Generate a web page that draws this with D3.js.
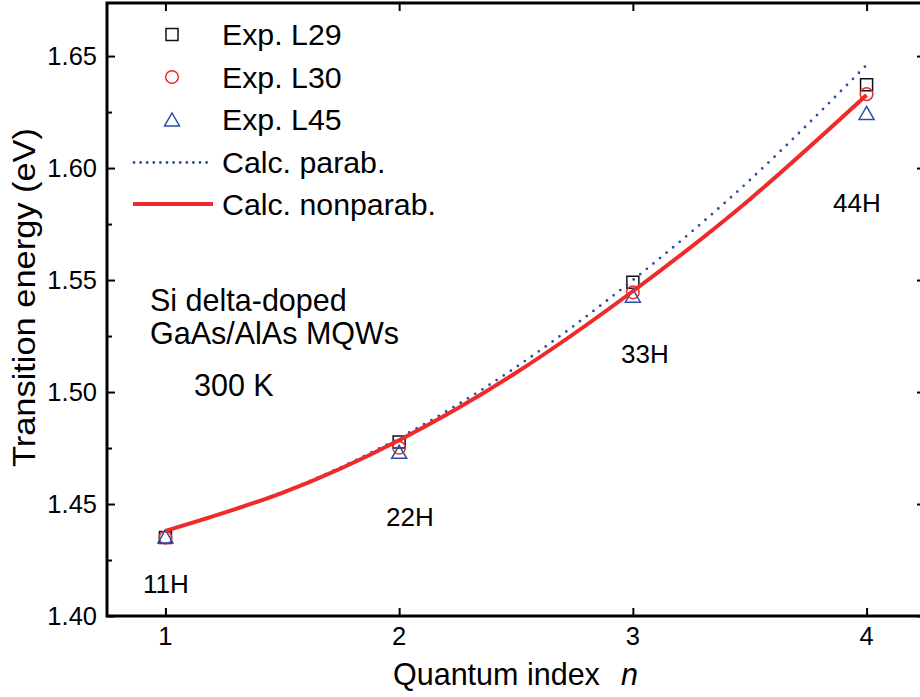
<!DOCTYPE html>
<html>
<head>
<meta charset="utf-8">
<script src="https://cdn.jsdelivr.net/npm/d3@7"></script>
<style>
  html, body { margin: 0; padding: 0; background: #fff; }
  svg { display: block; }
  text { font-family: "Liberation Sans", Arial, sans-serif; fill: #000; }
</style>
</head>
<body>
<svg id="chart" width="920" height="697"></svg>
<script>
// Quantum index n of each measured transition
const quantumIndex = [1, 2, 3, 4];
const transitionLabels = ["11H", "22H", "33H", "44H"];

// Measured transition energies (eV) for three samples
const expL29 = [1.4350, 1.4777, 1.5490, 1.6372];
const expL30 = [1.4350, 1.4751, 1.5445, 1.6330];
const expL45 = [1.4355, 1.4733, 1.5430, 1.6246];

// Calculated curves (eV) sampled along n
const calcN = [1, 1.5, 2, 2.5, 3, 3.5, 4];
const calcParab = [1.4380, 1.4553, 1.4795, 1.5111, 1.5500, 1.5946, 1.6460];
const calcNonparab = [1.4380, 1.4550, 1.4785, 1.5086, 1.5450, 1.5860, 1.6326];

// Axis ticks
const xTicks = [1, 2, 3, 4];
const yTicks = [1.40, 1.45, 1.50, 1.55, 1.60, 1.65];
const yMinorTicks = [1.425, 1.475, 1.525, 1.575, 1.625];

const BLUE = "#2b4ea2";
const RED = "#ee2a2a";

const svg = d3.select("#chart");

const x = d3.scaleLinear().domain([0.75, 4.25]).range([107, 925]);
const y = d3.scaleLinear().domain([1.40, 1.6737]).range([616, 3]);

const plotLeft = x.range()[0], plotRight = x.range()[1];
const plotTop = y.range()[1], plotBottom = y.range()[0];

// Frame and inward ticks
const axes = svg.append("g");
axes.append("g").attr("transform", `translate(0,${plotBottom})`)
  .call(d3.axisTop(x).tickValues(xTicks).tickSize(8).tickFormat(""));
axes.append("g").attr("transform", `translate(0,${plotTop})`)
  .call(d3.axisBottom(x).tickValues(xTicks).tickSize(8).tickFormat(""));
axes.append("g").attr("transform", `translate(${plotLeft},0)`)
  .call(d3.axisRight(y).tickValues(yTicks).tickSize(8).tickFormat(""));
axes.append("g").attr("transform", `translate(${plotLeft},0)`)
  .call(d3.axisRight(y).tickValues(yMinorTicks).tickSize(5).tickFormat(""));
axes.append("g").attr("transform", `translate(${plotRight},0)`)
  .call(d3.axisLeft(y).tickValues(yTicks).tickSize(8).tickFormat(""));
axes.append("g").attr("transform", `translate(${plotRight},0)`)
  .call(d3.axisLeft(y).tickValues(yMinorTicks).tickSize(5).tickFormat(""));
axes.selectAll(".domain").remove();
axes.selectAll(".tick line").attr("stroke", "#000").attr("stroke-width", 2);

svg.append("rect")
  .attr("x", plotLeft).attr("y", plotTop)
  .attr("width", plotRight - plotLeft).attr("height", plotBottom - plotTop)
  .attr("fill", "none").attr("stroke", "#000").attr("stroke-width", 3);

// Tick labels
svg.append("g").selectAll("text").data(yTicks).join("text")
  .attr("x", 97).attr("y", d => y(d) + 9)
  .attr("text-anchor", "end").attr("font-size", 25.5)
  .text(d => d.toFixed(2));
svg.append("g").selectAll("text").data(xTicks).join("text")
  .attr("x", d => x(d)).attr("y", 645)
  .attr("text-anchor", "middle").attr("font-size", 25.5)
  .text(d => d);

// Axis titles
const xTitle = svg.append("text").attr("y", 685).attr("font-size", 30.5);
xTitle.append("tspan").attr("x", 393).text("Quantum index");
xTitle.append("tspan").attr("x", 621).attr("font-style", "italic").text("n");

svg.append("text")
  .attr("transform", "translate(35,297.5) rotate(-90)")
  .attr("text-anchor", "middle").attr("font-size", 31)
  .attr("textLength", 339).attr("lengthAdjust", "spacingAndGlyphs")
  .text("Transition energy (eV)");

// Marker shapes
const squarePath = s => `M${-s/2},${-s/2}h${s}v${s}h${-s}Z`;
const trianglePath = (w, h) => `M0,${-h/2}L${w/2},${h/2}L${-w/2},${h/2}Z`;

function drawSquares(g, xs, ys) {
  g.selectAll(null).data(xs.map((d, i) => [d, ys[i]])).join("path")
    .attr("transform", d => `translate(${x(d[0])},${y(d[1])})`)
    .attr("d", squarePath(12))
    .attr("fill", "none").attr("stroke", "#111").attr("stroke-width", 1.5);
}
function drawCircles(g, xs, ys) {
  g.selectAll(null).data(xs.map((d, i) => [d, ys[i]])).join("circle")
    .attr("cx", d => x(d[0])).attr("cy", d => y(d[1])).attr("r", 6.3)
    .attr("fill", "none").attr("stroke", RED).attr("stroke-width", 1.5);
}
function drawTriangles(g, xs, ys) {
  g.selectAll(null).data(xs.map((d, i) => [d, ys[i]])).join("path")
    .attr("transform", d => `translate(${x(d[0])},${y(d[1])})`)
    .attr("d", trianglePath(15, 13))
    .attr("fill", "none").attr("stroke", BLUE).attr("stroke-width", 1.5);
}

const marks = svg.append("g");
drawSquares(marks.append("g"), quantumIndex, expL29);
drawCircles(marks.append("g"), quantumIndex, expL30);
drawTriangles(marks.append("g"), quantumIndex, expL45);

// Calculated curves
const line = d3.line().x(d => x(d[0])).y(d => y(d[1])).curve(d3.curveNatural);
svg.append("path")
  .datum(calcN.map((d, i) => [d, calcParab[i]]))
  .attr("d", line).attr("fill", "none")
  .attr("stroke", BLUE).attr("stroke-width", 2.8)
  .attr("stroke-linecap", "round").attr("stroke-dasharray", "0 8.5");
svg.append("path")
  .datum(calcN.map((d, i) => [d, calcNonparab[i]]))
  .attr("d", line).attr("fill", "none")
  .attr("stroke", RED).attr("stroke-width", 4);

// Transition labels
const labelPos = [[143, 593], [386, 526], [621, 363], [833, 212]];
svg.append("g").selectAll("text").data(transitionLabels).join("text")
  .attr("x", (d, i) => labelPos[i][0]).attr("y", (d, i) => labelPos[i][1])
  .attr("font-size", 26).text(d => d);

// Sample description
const note = svg.append("g").attr("font-size", 30.5);
note.append("text").attr("x", 150).attr("y", 311).text("Si delta-doped");
note.append("text").attr("x", 150).attr("y", 344).text("GaAs/AlAs MQWs");
note.append("text").attr("x", 194).attr("y", 396).text("300 K");

// Legend
const legend = svg.append("g");
const legendItems = ["Exp. L29", "Exp. L30", "Exp. L45", "Calc. parab.", "Calc. nonparab."];
const rowY = [34.5, 77, 119.5, 162.5, 204];
legend.append("path").attr("transform", `translate(172,${rowY[0]})`)
  .attr("d", squarePath(12)).attr("fill", "none").attr("stroke", "#111").attr("stroke-width", 1.5);
legend.append("circle").attr("cx", 172).attr("cy", rowY[1]).attr("r", 6.3)
  .attr("fill", "none").attr("stroke", RED).attr("stroke-width", 1.5);
legend.append("path").attr("transform", `translate(172,${rowY[2]})`)
  .attr("d", trianglePath(15, 13)).attr("fill", "none").attr("stroke", BLUE).attr("stroke-width", 1.5);
legend.append("line").attr("x1", 134).attr("x2", 208).attr("y1", rowY[3]).attr("y2", rowY[3])
  .attr("stroke", BLUE).attr("stroke-width", 2.8).attr("stroke-linecap", "round")
  .attr("stroke-dasharray", "0 6.6");
legend.append("line").attr("x1", 133).attr("x2", 213).attr("y1", rowY[4]).attr("y2", rowY[4])
  .attr("stroke", RED).attr("stroke-width", 4);
legend.selectAll("text").data(legendItems).join("text")
  .attr("x", 222).attr("y", (d, i) => rowY[i] + 10.5)
  .attr("font-size", 30.3).text(d => d);
</script>
</body>
</html>
